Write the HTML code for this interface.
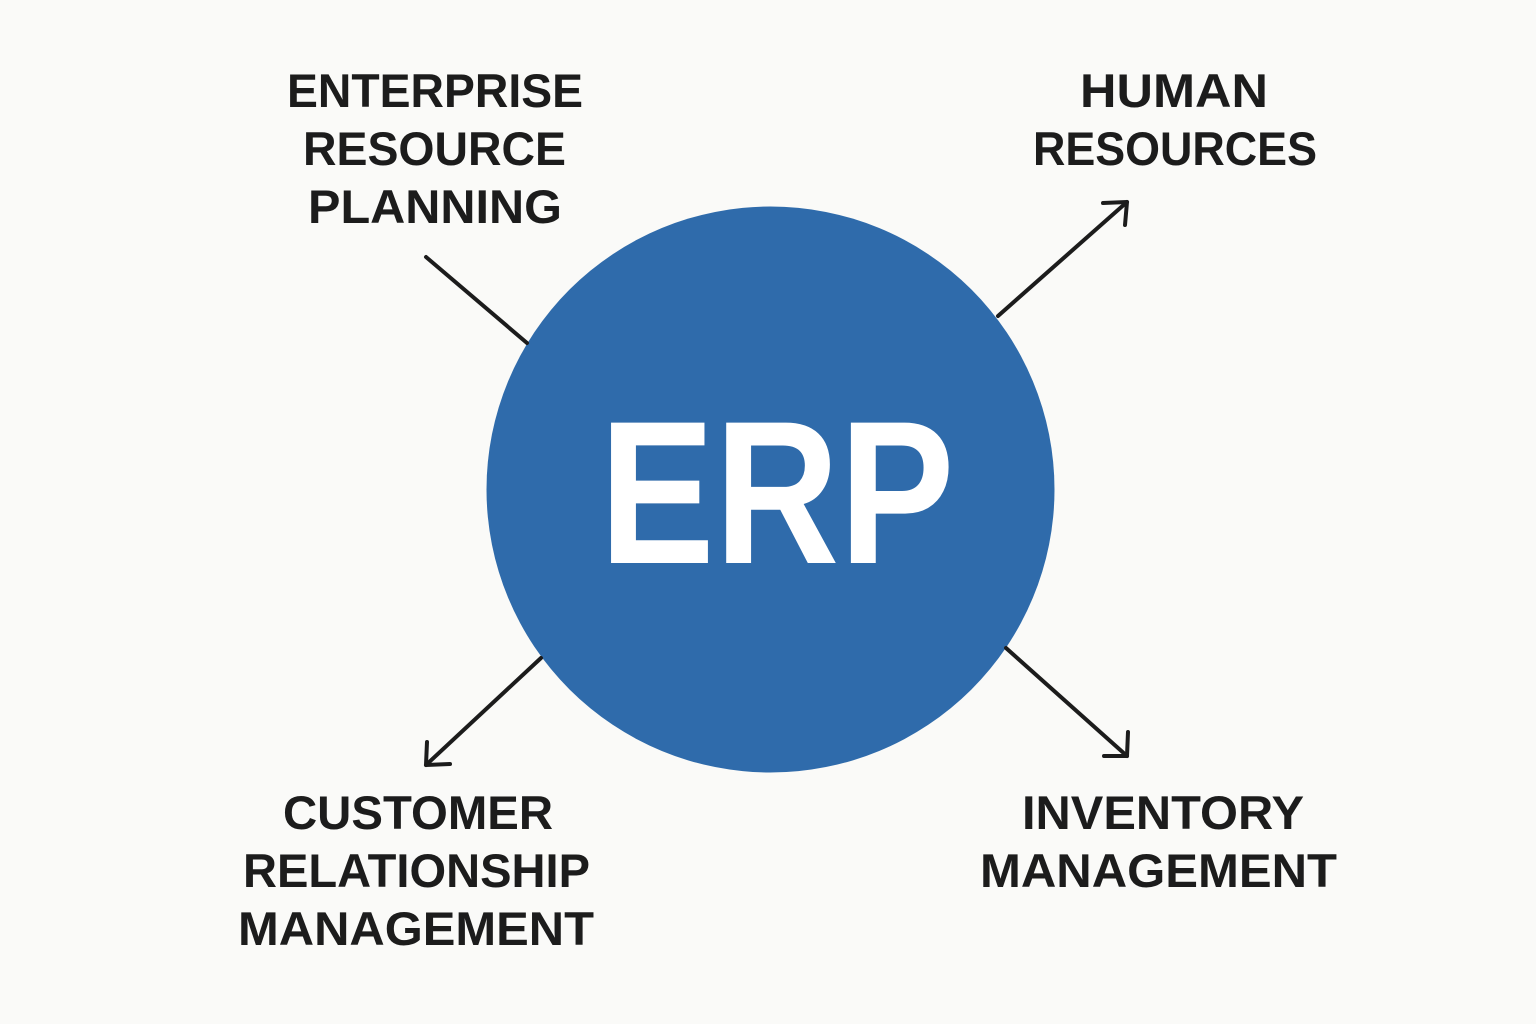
<!DOCTYPE html>
<html><head><meta charset="utf-8"><style>
html,body{margin:0;padding:0;background:#fafaf8;}
svg{display:block}
text{font-family:"Liberation Sans",sans-serif;font-weight:bold;}
</style></head><body>
<svg width="1536" height="1024" viewBox="0 0 1536 1024">
<rect width="1536" height="1024" fill="#fafaf8"/>
<ellipse cx="770.5" cy="489.5" rx="284" ry="283" fill="#2f6bab"/>
<text x="777" y="563" font-size="204" fill="#fff" text-anchor="middle" textLength="355" lengthAdjust="spacingAndGlyphs">ERP</text>
<g stroke="#1c1c1c" stroke-width="4" fill="none" stroke-linecap="round" stroke-linejoin="round">
<line x1="426" y1="257" x2="527" y2="343"/>
<line x1="998" y1="316" x2="1127" y2="202"/>
<polyline points="1103,203 1127,202 1125,225"/>
<line x1="541" y1="658" x2="426" y2="765"/>
<polyline points="427,742 426,765 450,764"/>
<line x1="1006" y1="648" x2="1127" y2="756"/>
<polyline points="1128,732 1127,756 1104,756"/>
</g>
<g fill="#1c1c1c" font-size="47" text-anchor="middle">
<text x="435" y="107" textLength="296" lengthAdjust="spacingAndGlyphs">ENTERPRISE</text>
<text x="434.5" y="165" textLength="263" lengthAdjust="spacingAndGlyphs">RESOURCE</text>
<text x="435" y="223" textLength="254" lengthAdjust="spacingAndGlyphs">PLANNING</text>
<text x="1174" y="107" textLength="188" lengthAdjust="spacingAndGlyphs">HUMAN</text>
<text x="1175" y="165" textLength="284" lengthAdjust="spacingAndGlyphs">RESOURCES</text>
<text x="418" y="829" textLength="270" lengthAdjust="spacingAndGlyphs">CUSTOMER</text>
<text x="416.5" y="887" textLength="347" lengthAdjust="spacingAndGlyphs">RELATIONSHIP</text>
<text x="416" y="945" textLength="356" lengthAdjust="spacingAndGlyphs">MANAGEMENT</text>
<text x="1163" y="829" textLength="282" lengthAdjust="spacingAndGlyphs">INVENTORY</text>
<text x="1158.5" y="887" textLength="357" lengthAdjust="spacingAndGlyphs">MANAGEMENT</text>
</g>
</svg>
</body></html>
